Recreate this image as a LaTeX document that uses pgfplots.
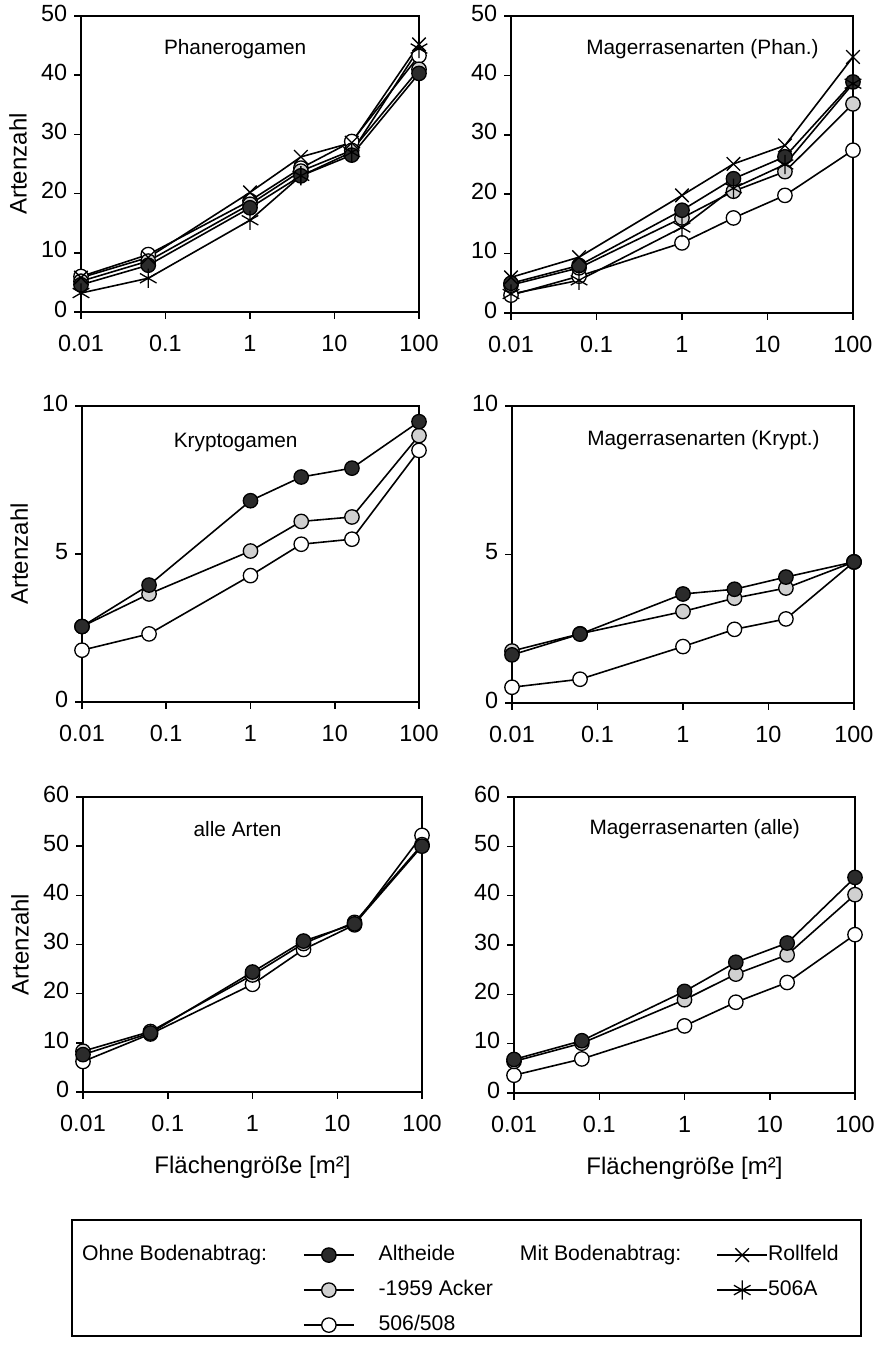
\documentclass[border=0pt]{standalone}
\usepackage{fontspec}
\setmainfont{Liberation Sans}
\usepackage{pgfplots}
\pgfplotsset{compat=1.18}
\usetikzlibrary{plotmarks}

\definecolor{darkfill}{HTML}{2B2B2B}
\definecolor{greyfill}{HTML}{D0D0D0}

\newcommand{\tickfont}{\fontsize{11.7}{13}\selectfont}
\newcommand{\titlefont}{\fontsize{10.4}{12}\selectfont}
\newcommand{\labfont}{\fontsize{12}{14}\selectfont}
\newcommand{\legfont}{\fontsize{10.6}{12}\selectfont}

\pgfplotsset{/pgf/number format/assume math mode=true}
\pgfplotsset{
  panel/.style={
    scale only axis,
    anchor=south west,
    xmin=0.01, xmax=100,
    xtick={0.01,0.1,1,10,100},
    xticklabels={0.01,0.1,1,10,100},
    xminorticks=false,
    yminorticks=false,
    xtick pos=bottom, ytick pos=left,
    tick align=outside,
    major tick length=3.4pt,
    tick style={black, line width=0.75pt},
    axis line style={black, line width=0.75pt},
    ymin=0,
    typeset ticklabels with strut,
    ticklabel style={font=\tickfont},
    xticklabel style={yshift=-3.5pt},
    clip=false,
    ylabel style={font=\labfont, at={(axis description cs:-0.186,0.5)}, anchor=center},
    xlabel style={font=\labfont, at={(axis description cs:0.5,0)}, anchor=center, yshift=-37.5pt},
  },
  altheide/.style={black, line width=0.8pt, mark=*, mark size=3.6pt,
    mark options={fill=darkfill, draw=black, line width=0.65pt, solid}},
  acker/.style={black, line width=0.8pt, mark=*, mark size=3.6pt,
    mark options={fill=greyfill, draw=black, line width=0.65pt, solid}},
  opencirc/.style={black, line width=0.8pt, mark=*, mark size=3.6pt,
    mark options={fill=white, draw=black, line width=0.65pt, solid}},
  rollfeld/.style={black, line width=0.8pt, mark=x, mark size=4.8pt,
    mark options={line width=0.65pt, solid}},
  asterisk506/.style={black, line width=0.8pt, mark=asterisk, mark size=4.8pt,
    mark options={line width=0.65pt, solid}},
}

\begin{document}
\begin{tikzpicture}
\path[use as bounding box] (0,0) rectangle (442pt,674.5pt);

% ---------- Top left: Phanerogamen ----------
\begin{semilogxaxis}[panel, at={(40.5pt,518.5pt)}, width=169pt, height=148pt,
  ymax=50, ytick={0,10,20,30,40,50}, ylabel={Artenzahl}]
\addplot[opencirc] coordinates {(0.01,6.0) (0.0625,9.7) (1,18.8) (4,24.3) (16,28.8) (100,43.3)};
\addplot[acker] coordinates {(0.01,5.2) (0.0625,8.6) (1,18.2) (4,23.8) (16,27.3) (100,41.0)};
\addplot[altheide] coordinates {(0.01,4.6) (0.0625,7.9) (1,17.6) (4,23.0) (16,26.5) (100,40.3)};
\addplot[rollfeld] coordinates {(0.01,5.8) (0.0625,9.2) (1,20.2) (4,26.2) (16,28.6) (100,45.2)};
\addplot[asterisk506] coordinates {(0.01,3.2) (0.0625,5.7) (1,15.5) (4,23.0) (16,27.0) (100,44.5)};
\node[font=\titlefont] at (rel axis cs:0.456,0.888) {Phanerogamen};
\end{semilogxaxis}

% ---------- Top right: Magerrasenarten (Phan.) ----------
\begin{semilogxaxis}[panel, at={(255.5pt,518pt)}, width=171pt, height=148.5pt,
  ymax=50, ytick={0,10,20,30,40,50}]
\addplot[opencirc] coordinates {(0.01,3.0) (0.0625,6.2) (1,11.8) (4,16.0) (16,19.8) (100,27.4)};
\addplot[acker] coordinates {(0.01,4.7) (0.0625,7.6) (1,16.0) (4,20.5) (16,23.8) (100,35.2)};
\addplot[altheide] coordinates {(0.01,5.0) (0.0625,8.0) (1,17.3) (4,22.6) (16,26.3) (100,38.9)};
\addplot[rollfeld] coordinates {(0.01,6.0) (0.0625,9.4) (1,19.8) (4,25.1) (16,28.2) (100,43.1)};
\addplot[asterisk506] coordinates {(0.01,3.2) (0.0625,5.5) (1,14.4) (4,21.0) (16,25.0) (100,38.6)};
\node[font=\titlefont] at (rel axis cs:0.56,0.888) {Magerrasenarten (Phan.)};
\end{semilogxaxis}

% ---------- Middle left: Kryptogamen ----------
\begin{semilogxaxis}[panel, at={(41pt,323.5pt)}, width=168.5pt, height=148pt,
  ymax=10, ytick={0,5,10}, ylabel={Artenzahl}]
\addplot[opencirc] coordinates {(0.01,1.75) (0.0625,2.3) (1,4.27) (4,5.33) (16,5.5) (100,8.5)};
\addplot[acker] coordinates {(0.01,2.55) (0.0625,3.65) (1,5.1) (4,6.1) (16,6.25) (100,9.0)};
\addplot[altheide] coordinates {(0.01,2.55) (0.0625,3.95) (1,6.8) (4,7.6) (16,7.9) (100,9.47)};
\node[font=\titlefont] at (rel axis cs:0.456,0.878) {Kryptogamen};
\end{semilogxaxis}

% ---------- Middle right: Magerrasenarten (Krypt.) ----------
\begin{semilogxaxis}[panel, at={(256pt,323pt)}, width=171pt, height=148.5pt,
  ymax=10, ytick={0,5,10}]
\addplot[opencirc] coordinates {(0.01,0.53) (0.0625,0.8) (1,1.9) (4,2.48) (16,2.83) (100,4.75)};
\addplot[acker] coordinates {(0.01,1.75) (0.0625,2.33) (1,3.08) (4,3.53) (16,3.87) (100,4.75)};
\addplot[altheide] coordinates {(0.01,1.62) (0.0625,2.32) (1,3.67) (4,3.83) (16,4.24) (100,4.75)};
\node[font=\titlefont] at (rel axis cs:0.56,0.885) {Magerrasenarten (Krypt.)};
\end{semilogxaxis}

% ---------- Bottom left: alle Arten ----------
\begin{semilogxaxis}[panel, at={(41.5pt,128.5pt)}, width=169.5pt, height=147.5pt,
  ymax=60, ytick={0,10,20,30,40,50,60}, ylabel={Artenzahl}, xlabel={Flächengröße [m²]}]
\addplot[opencirc] coordinates {(0.01,6.2) (0.0625,11.8) (1,21.9) (4,29.0) (16,34.0) (100,52.2)};
\addplot[acker] coordinates {(0.01,8.3) (0.0625,12.3) (1,23.8) (4,30.2) (16,34.5) (100,50.3)};
\addplot[altheide] coordinates {(0.01,7.6) (0.0625,12.0) (1,24.4) (4,30.7) (16,34.2) (100,50.0)};
\node[font=\titlefont] at (rel axis cs:0.456,0.892) {alle Arten};
\end{semilogxaxis}

% ---------- Bottom right: Magerrasenarten (alle) ----------
\begin{semilogxaxis}[panel, at={(257pt,128pt)}, width=170.5pt, height=148pt,
  ymax=60, ytick={0,10,20,30,40,50,60}, xlabel={Flächengröße [m²]}]
\addplot[opencirc] coordinates {(0.01,3.6) (0.0625,6.9) (1,13.6) (4,18.4) (16,22.4) (100,32.1)};
\addplot[acker] coordinates {(0.01,6.4) (0.0625,10.1) (1,18.9) (4,24.1) (16,28.0) (100,40.2)};
\addplot[altheide] coordinates {(0.01,6.8) (0.0625,10.6) (1,20.6) (4,26.5) (16,30.4) (100,43.7)};
\node[font=\titlefont] at (rel axis cs:0.53,0.892) {Magerrasenarten (alle)};
\end{semilogxaxis}

% ---------- Legend box ----------
\begin{axis}[at={(36pt,6.5pt)}, anchor=south west, scale only axis,
  width=394.5pt, height=58pt, xmin=0, xmax=1, ymin=0, ymax=1,
  xtick=\empty, ytick=\empty, axis line style={black, line width=0.75pt},
  legend image code/.code={\draw[mark repeat=2,mark phase=2,#1] plot coordinates {(0pt,0pt) (12.5pt,0pt) (25pt,0pt)};},
  legend columns=4,
  legend cell align=left,
  legend style={at={(axis description cs:0.0127,0.788)}, anchor=north west,
    draw=none, fill=none, font=\legfont, inner sep=0pt, outer sep=0pt,
    nodes={inner xsep=0pt, inner ysep=0pt, text height=8pt, text depth=2.5pt},
    column sep=0pt, row sep=7pt,
    /tikz/column 2/.style={column sep=18pt},
    /tikz/column 3/.style={column sep=12pt},
    /tikz/column 4/.style={column sep=13.5pt},
    /tikz/column 6/.style={column sep=17.5pt},
  }]
\addlegendimage{empty legend}\addlegendentry{Ohne Bodenabtrag:}
\addlegendimage{altheide}\addlegendentry{Altheide}
\addlegendimage{empty legend}\addlegendentry{Mit Bodenabtrag:}
\addlegendimage{rollfeld}\addlegendentry{Rollfeld}
\addlegendimage{empty legend}\addlegendentry{}
\addlegendimage{acker}\addlegendentry{-1959 Acker}
\addlegendimage{empty legend}\addlegendentry{}
\addlegendimage{asterisk506}\addlegendentry{506A}
\addlegendimage{empty legend}\addlegendentry{}
\addlegendimage{opencirc}\addlegendentry{506/508}
\end{axis}
\end{tikzpicture}
\end{document}
